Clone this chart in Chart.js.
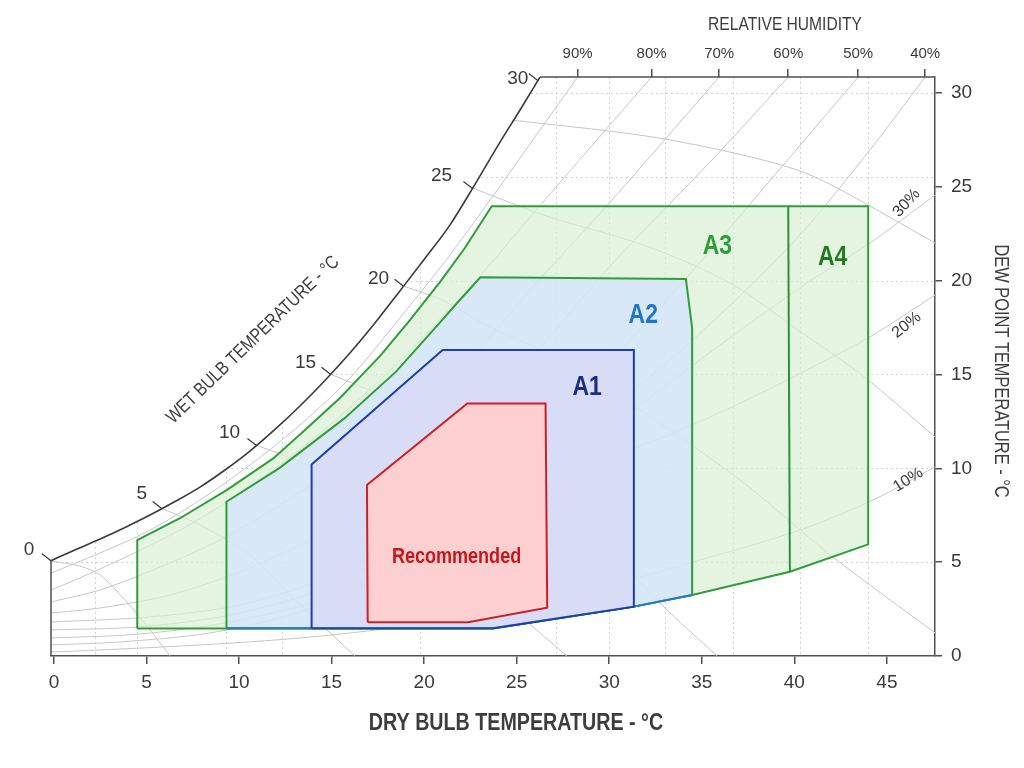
<!DOCTYPE html>
<html lang="en">
<head>
<meta charset="UTF-8">
<title>Psychrometric Chart - Allowable Classes</title>
<script src="https://cdn.jsdelivr.net/npm/chart.js"></script>
<style>
  html, body { margin: 0; padding: 0; background: #fff; }
  #wrap { width: 1024px; height: 768px; }
</style>
</head>
<body>
<div id="wrap"><canvas id="psyChart" width="1024" height="768"></canvas></div>
<script>
// ---- axes ----
const dryBulbTicks = [0, 5, 10, 15, 20, 25, 30, 35, 40, 45];
const dewPointTicks = [0, 5, 10, 15, 20, 25, 30];
const rhTopLabels = ['90%', '80%', '70%', '60%', '50%', '40%'];
const rhTopAt = [28.29, 32.29, 35.94, 39.67, 43.45, 47.07];
const xMin = -0.16, xMax = 47.6, yMin = 0, yMax = 30.85;

// faint dotted grid (as drawn in the picture)
const gridX = [2.2, 4.5, 9.3, 12.3, 19.8, 27.1, 30.0, 33.0, 36.7, 40.3, 44.0];
const gridY = [5, 10, 15, 20, 25.5, 30];

// ---- saturation curve + wet bulb scale ----
const satX = [-0.16, 1.13, 2.49, 3.84, 5.19, 6.54, 7.89, 9.24, 10.59, 11.94, 13.29, 14.64, 15.99, 17.34, 18.69, 20.04, 21.39, 22.74, 24.10, 25.18, 26.26];
const satY = [5.08, 5.65, 6.23, 6.85, 7.51, 8.23, 9.00, 9.91, 10.92, 12.07, 13.32, 14.68, 16.14, 17.74, 19.45, 21.18, 22.96, 25.12, 27.38, 29.09, 30.85];
const wetBulbLabels = ['0', '5', '10', '15', '20', '25', '30'];
const wetBulbX = [-0.16, 5.82, 10.94, 14.94, 18.89, 22.61, 26.14];
const wetBulbY = [5.08, 7.86, 11.22, 15.01, 19.70, 24.91, 30.66];

// ---- relative humidity curves ----
const rh90X = [28.29, 24.10, 21.39, 18.69, 15.99, 13.29, 10.59, 7.89, 5.19, 2.49, -0.16];
const rh90Y = [30.85, 25.04, 21.36, 18.01, 14.81, 12.31, 10.18, 8.31, 6.71, 5.49, 4.42];
const rh80X = [32.29, 26.09, 23.01, 20.31, 17.61, 14.91, 12.21, 9.51, 6.81, 4.11, 1.40, -0.16];
const rh80Y = [30.85, 23.81, 20.24, 17.37, 14.70, 12.31, 10.18, 8.31, 6.71, 5.38, 4.16, 3.52];
const rh70X = [35.94, 30.20, 26.26, 22.10, 18.69, 15.45, 12.21, 8.97, 5.73, 2.49, -0.16];
const rh70Y = [30.85, 24.35, 20.09, 15.45, 12.57, 10.18, 8.04, 6.18, 4.74, 3.52, 2.88];
const rh60X = [39.67, 35.60, 30.20, 25.72, 21.23, 17.61, 13.83, 10.05, 6.27, 2.49, -0.16];
const rh60Y = [30.85, 26.48, 20.94, 15.82, 11.35, 8.47, 6.18, 4.48, 3.25, 2.56, 2.29];
const rh50X = [43.45, 39.22, 34.74, 30.20, 26.63, 23.01, 18.69, 14.37, 10.05, 5.19, -0.16];
const rh50Y = [30.85, 25.95, 20.78, 15.82, 12.09, 9.11, 6.18, 4.05, 2.72, 2.08, 1.81];
const rh40X = [47.07, 44.08, 40.30, 35.98, 31.66, 27.34, 23.01, 18.69, 14.37, 9.51, 4.65, -0.16];
const rh40Y = [30.85, 26.96, 22.43, 18.17, 14.44, 11.24, 8.31, 5.65, 3.52, 2.18, 1.55, 1.39];
const rh30X = [47.60, 44.08, 40.68, 35.98, 31.66, 27.34, 23.01, 18.69, 14.37, 9.51, 4.65, -0.16];
const rh30Y = [24.56, 22.00, 19.87, 16.57, 13.37, 10.34, 7.35, 4.85, 2.98, 1.81, 1.17, 0.96];
const rh20X = [47.60, 44.08, 41.00, 37.44, 33.82, 30.20, 26.26, 21.93, 17.61, 13.29, 8.43, 3.57, -0.16];
const rh20Y = [19.23, 17.00, 15.40, 13.64, 12.04, 10.60, 8.84, 6.18, 4.05, 2.34, 1.23, 0.75, 0.59];
const rh10X = [47.60, 44.25, 40.30, 34.90, 29.50, 24.10, 18.69, 13.29, 7.89, 2.49, -0.16];
const rh10Y = [10.07, 8.31, 6.71, 5.11, 3.62, 2.45, 1.55, 0.96, 0.59, 0.32, 0.21];
const rhSideLabels = ['30%', '20%', '10%'];
const rhSideX = [46.07, 46.07, 46.15];
const rhSideY = [24.13, 17.63, 9.38];

// ---- wet bulb lines ----
const wb1X = [24.69, 32.04, 37.44, 41.00, 45.71, 47.60];
const wb1Y = [28.56, 27.70, 26.64, 25.57, 23.07, 22.00];
const wb2X = [22.58, 26.62, 32.02, 36.52, 40.12, 43.71, 47.60];
const wb2Y = [24.95, 23.44, 21.84, 19.87, 17.42, 14.92, 11.67];
const wb3X = [18.91, 20.96, 23.55, 26.63, 31.66, 37.06, 42.09, 47.60];
const wb3Y = [19.70, 18.97, 17.53, 16.14, 13.11, 9.38, 5.27, 1.23];
const wb4X = [14.96, 17.61, 21.39, 25.72, 29.50, 32.74, 35.82];
const wb4Y = [15.01, 13.91, 12.04, 9.38, 6.18, 2.82, 0];
const wb5X = [10.97, 13.29, 16.53, 20.31, 23.55, 25.88, 27.71];
const wb5Y = [11.22, 10.34, 8.58, 5.91, 3.52, 1.55, 0];
const wb6X = [5.83, 7.89, 10.59, 12.75, 14.75, 16.26];
const wb6Y = [7.86, 6.98, 5.38, 3.25, 1.39, 0];
const wb7X = [-0.16, 1.40, 2.49, 3.84, 5.19, 6.27];
const wb7Y = [5.06, 4.79, 4.32, 2.98, 1.39, 0];

// ---- envelopes ----
const a3X = [4.50, 4.50, 6.81, 9.33, 11.85, 13.56, 15.45, 17.61, 19.23, 20.85, 22.20, 23.65, 43.99, 43.99, 39.76, 34.48, 31.33, 23.73];
const a3Y = [1.47, 6.18, 7.34, 8.84, 10.53, 12.04, 13.75, 15.98, 17.90, 19.92, 21.74, 23.97, 23.97, 5.95, 4.49, 3.25, 2.63, 1.47];
const a4X = [39.67, 39.76];
const a4Y = [23.97, 4.49];
const a2X = [9.33, 9.32, 12.16, 15.69, 18.48, 20.68, 21.83, 23.04, 34.14, 34.48, 34.48, 31.33, 23.73];
const a2Y = [1.48, 8.22, 10.00, 12.66, 15.15, 17.58, 18.86, 20.18, 20.09, 17.46, 3.25, 2.63, 1.48];
const a2BottomX = [9.33, 23.73, 31.33, 34.48];
const a2BottomY = [1.48, 1.48, 2.63, 3.25];
const a1X = [13.92, 13.92, 21.00, 31.33, 31.33, 23.73];
const a1Y = [1.48, 10.21, 16.30, 16.30, 2.63, 1.48];
const recX = [16.95, 16.91, 22.33, 26.56, 26.65, 22.38];
const recY = [1.80, 9.11, 13.46, 13.46, 2.57, 1.80];

const regionNames = ['Recommended', 'A1', 'A2', 'A3', 'A4'];
const regionLabelX = [21.75, 28.81, 31.84, 35.84, 42.07];
const regionLabelY = [5.29, 14.32, 18.15, 21.84, 21.22];

// ---- style ----
const FONT = "'Liberation Sans', Arial, sans-serif";
const SQUEEZE = 0.82;   // narrow lettering of the original
const TEXT = '#3a3a3a';
const AXIS = '#505050';
const THIN = '#c6c6c6';
const regionColors = ['#c8161d', '#1b2f80', '#1f74d0', '#2f9e3a', '#1e7b1e'];
const wbLabelDx = [-22, -20, -27, -25, -25, -31, -20];
const wbLabelDy = [-11, -15, -13, -12, -8, -13, -2];

function pts(xs, ys, closed) {
    const p = xs.map((x, i) => ({ x: x, y: ys[i] }));
    if (closed) p.push({ x: xs[0], y: ys[0] });
    return p;
}

function thinLine(xs, ys) {
    return { data: pts(xs, ys), borderColor: THIN, borderWidth: 1, tension: 0.3, order: 20 };
}

const grayLines = [
    [rh90X, rh90Y], [rh80X, rh80Y], [rh70X, rh70Y], [rh60X, rh60Y], [rh50X, rh50Y],
    [rh40X, rh40Y], [rh30X, rh30Y], [rh20X, rh20Y], [rh10X, rh10Y],
    [wb1X, wb1Y], [wb2X, wb2Y], [wb3X, wb3Y], [wb4X, wb4Y], [wb5X, wb5Y], [wb6X, wb6Y], [wb7X, wb7Y]
].map(l => thinLine(l[0], l[1]));

const datasets = grayLines.concat([
    { label: 'A3', data: pts(a3X, a3Y, true), borderColor: '#2f9e3a', borderWidth: 2,
      backgroundColor: 'rgba(216,239,211,0.7)', fill: 'shape', order: 9 },
    { label: 'A4', data: pts(a4X, a4Y), borderColor: '#2a9434', borderWidth: 2, order: 8 },
    { label: 'A2', data: pts(a2X, a2Y, true), borderColor: '#2f9e3a', borderWidth: 2,
      backgroundColor: 'rgba(211,227,255,0.7)', fill: 'shape', order: 7 },
    { label: 'A2 bottom', data: pts(a2BottomX, a2BottomY), borderColor: '#2a78d0', borderWidth: 2, order: 6 },
    { label: 'A1', data: pts(a1X, a1Y, true), borderColor: '#1c3fae', borderWidth: 2,
      backgroundColor: 'rgba(217,215,245,0.7)', fill: 'shape', order: 5 },
    { label: 'Recommended', data: pts(recX, recY, true), borderColor: '#cc1f24', borderWidth: 2,
      backgroundColor: 'rgba(255,207,205,0.92)', fill: 'shape', order: 4 },
    { label: 'Saturation', data: pts(satX, satY), borderColor: '#3a3a3a', borderWidth: 1.6,
      backgroundColor: '#ffffff', fill: 'end', cubicInterpolationMode: 'monotone', order: 3 }
]);
datasets.forEach(d => {
    d.showLine = true; d.pointRadius = 0; d.pointHoverRadius = 0;
    if (d.tension === undefined) d.tension = 0;
});

function text(ctx, str, x, y, font, color, align, angle, squeeze) {
    ctx.save();
    ctx.translate(x, y);
    if (angle) ctx.rotate(angle * Math.PI / 180);
    if (squeeze) ctx.scale(squeeze, 1);
    ctx.font = font;
    ctx.fillStyle = color;
    ctx.textAlign = align || 'center';
    ctx.textBaseline = 'middle';
    ctx.fillText(str, 0, 0);
    ctx.restore();
}

const gridPlugin = {
    id: 'psyGrid',
    beforeDatasetsDraw(chart) {
        const { ctx, chartArea: a, scales: { x, y } } = chart;
        ctx.save();
        ctx.strokeStyle = '#d2d2d2';
        ctx.lineWidth = 1;
        ctx.setLineDash([2, 3]);
        gridX.forEach(v => {
            const p = Math.round(x.getPixelForValue(v)) + 0.5;
            ctx.beginPath(); ctx.moveTo(p, a.top); ctx.lineTo(p, a.bottom); ctx.stroke();
        });
        gridY.forEach(v => {
            const p = Math.round(y.getPixelForValue(v)) + 0.5;
            ctx.beginPath(); ctx.moveTo(a.left, p); ctx.lineTo(a.right, p); ctx.stroke();
        });
        ctx.restore();
    }
};

const labelPlugin = {
    id: 'psyLabels',
    afterDatasetsDraw(chart) {
        const { ctx, scales: { x, y } } = chart;
        // frame pieces that follow the saturation curve ends
        ctx.save();
        ctx.strokeStyle = AXIS;
        ctx.lineWidth = 1.5;
        ctx.beginPath();
        ctx.moveTo(x.getPixelForValue(satX[satX.length - 1]), y.getPixelForValue(yMax));
        ctx.lineTo(x.getPixelForValue(xMax), y.getPixelForValue(yMax));
        ctx.moveTo(x.getPixelForValue(satX[0]), y.getPixelForValue(satY[0]));
        ctx.lineTo(x.getPixelForValue(satX[0]), y.getPixelForValue(yMin));
        ctx.stroke();

        // wet bulb ticks along the saturation curve
        ctx.strokeStyle = '#3a3a3a';
        ctx.lineWidth = 1.2;
        wetBulbLabels.forEach((lab, i) => {
            const cx = x.getPixelForValue(wetBulbX[i]);
            const cy = y.getPixelForValue(wetBulbY[i]);
            ctx.beginPath(); ctx.moveTo(cx, cy); ctx.lineTo(cx - 9, cy - 7); ctx.stroke();
            text(ctx, lab, cx + wbLabelDx[i], cy + wbLabelDy[i], '19px ' + FONT, TEXT);
        });
        ctx.restore();

        // relative humidity labels on the right
        const sideAngle = [-47, -38, -32];
        rhSideLabels.forEach((lab, i) => {
            text(ctx, lab, x.getPixelForValue(rhSideX[i]), y.getPixelForValue(rhSideY[i]),
                '16px ' + FONT, TEXT, 'center', sideAngle[i]);
        });

        // envelope names
        regionNames.forEach((lab, i) => {
            const size = i === 0 ? 22 : 28;
            text(ctx, lab, x.getPixelForValue(regionLabelX[i]), y.getPixelForValue(regionLabelY[i]),
                'bold ' + size + 'px ' + FONT, regionColors[i], 'center', 0, SQUEEZE);
        });

        // axis titles
        text(ctx, 'DRY BULB TEMPERATURE - °C', 516, 723, 'bold 24px ' + FONT, '#3d3d3d', 'center', 0, SQUEEZE);
        text(ctx, 'RELATIVE HUMIDITY', 785, 25, '19px ' + FONT, '#3d3d3d', 'center', 0, SQUEEZE);
        text(ctx, 'DEW POINT TEMPERATURE - °C', 1001, 371, '20px ' + FONT, '#3d3d3d', 'center', 90, SQUEEZE);
        text(ctx, 'WET BULB TEMPERATURE - °C', 253, 340, '19px ' + FONT, '#3d3d3d', 'center', -44, SQUEEZE);
    }
};

const ctx = document.getElementById('psyChart').getContext('2d');
const psyChart = new Chart(ctx, {
    type: 'scatter',
    data: { datasets: datasets },
    options: {
        responsive: false,
        animation: false,
        events: [],
        layout: { padding: { left: 51, right: 0, top: 0, bottom: 0 } },
        plugins: { legend: { display: false }, tooltip: { enabled: false } },
        scales: {
            x: {
                type: 'linear', position: 'bottom', min: xMin, max: xMax,
                afterBuildTicks: s => { s.ticks = dryBulbTicks.map(v => ({ value: v })); },
                afterFit: s => { s.height = 112; },
                grid: { drawOnChartArea: false, drawTicks: true, tickLength: 8, color: AXIS, lineWidth: 1.5 },
                border: { display: true, color: AXIS, width: 1.5 },
                ticks: { color: TEXT, font: { family: FONT, size: 19 }, padding: 7, maxRotation: 0, autoSkip: false }
            },
            x2: {
                type: 'linear', position: 'top', min: xMin, max: xMax,
                afterBuildTicks: s => { s.ticks = rhTopAt.map(v => ({ value: v })); },
                afterFit: s => { s.height = 77; },
                grid: { drawOnChartArea: false, drawTicks: true, tickLength: 8, color: AXIS, lineWidth: 1.5 },
                border: { display: false },
                ticks: {
                    color: TEXT, font: { family: FONT, size: 15 }, padding: 6, maxRotation: 0, autoSkip: false,
                    callback: (v, i) => rhTopLabels[i]
                }
            },
            y: {
                type: 'linear', position: 'right', min: yMin, max: yMax,
                afterBuildTicks: s => { s.ticks = dewPointTicks.map(v => ({ value: v })); },
                afterFit: s => { s.width = 89; },
                grid: { drawOnChartArea: false, drawTicks: true, tickLength: 7, color: AXIS, lineWidth: 1.5 },
                border: { display: true, color: AXIS, width: 1.5 },
                ticks: { color: TEXT, font: { family: FONT, size: 19 }, padding: 9, autoSkip: false }
            }
        }
    },
    plugins: [gridPlugin, labelPlugin]
});
</script>
</body>
</html>
